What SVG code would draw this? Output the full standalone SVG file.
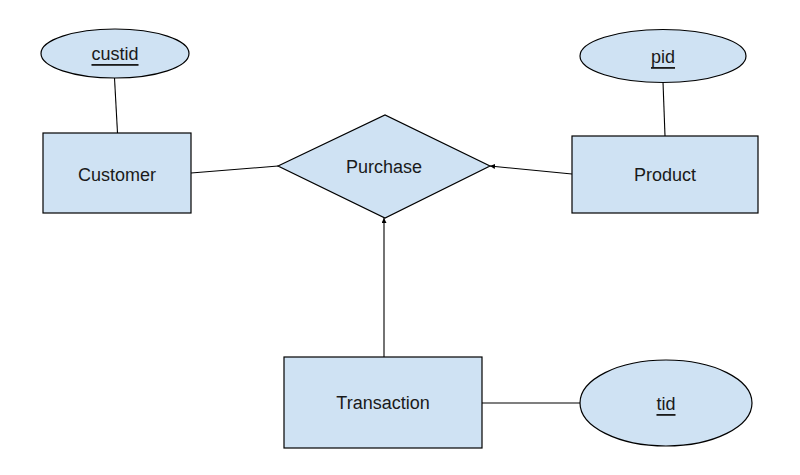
<svg xmlns="http://www.w3.org/2000/svg" width="800" height="475" viewBox="0 0 800 475">
<style>
.shape{fill:#cfe2f3;stroke:#000;stroke-width:1.2}
.lbl{font-family:"Liberation Sans",Arial,sans-serif;font-size:18px;fill:#1a1a1a;text-anchor:middle;dominant-baseline:central}
.key{text-decoration:underline}
.conn{stroke:#000;stroke-width:1.1;fill:none}
</style>
<defs>
<marker id="arr" viewBox="0 0 10 10" refX="10" refY="5" markerWidth="5" markerHeight="5" markerUnits="userSpaceOnUse" orient="auto">
<path d="M0,0 L10,5 L0,10 z" fill="#000"/>
</marker>
</defs>
<rect width="800" height="475" fill="#fff"/>
<g id="connectors">
<line class="conn" x1="114.5" y1="78" x2="117.5" y2="133"/>
<line class="conn" x1="191" y1="173" x2="278" y2="166"/>
<line class="conn" x1="663" y1="82" x2="665" y2="136"/>
<line class="conn" x1="572" y1="174" x2="490" y2="166" marker-end="url(#arr)"/>
<line class="conn" x1="384" y1="357" x2="384" y2="218" marker-end="url(#arr)"/>
<line class="conn" x1="482" y1="403" x2="580" y2="403"/>
</g>
<g id="custid">
<ellipse class="shape" cx="115" cy="53.5" rx="74" ry="24.5"/>
<text class="lbl key" x="115" y="54">custid</text>
</g>
<g id="customer">
<rect class="shape" x="43" y="133" width="148" height="80"/>
<text class="lbl" x="117" y="175">Customer</text>
</g>
<g id="purchase">
<polygon class="shape" points="278,166 385,115 490,166 385,218"/>
<text class="lbl" x="384" y="167">Purchase</text>
</g>
<g id="pid">
<ellipse class="shape" cx="663" cy="56" rx="83" ry="26.5"/>
<text class="lbl key" x="663" y="57">pid</text>
</g>
<g id="product">
<rect class="shape" x="572" y="136" width="186" height="77"/>
<text class="lbl" x="665" y="175">Product</text>
</g>
<g id="transaction">
<rect class="shape" x="284" y="357" width="198" height="91"/>
<text class="lbl" x="383" y="403">Transaction</text>
</g>
<g id="tid">
<ellipse class="shape" cx="666" cy="403" rx="86" ry="43"/>
<text class="lbl key" x="666" y="404">tid</text>
</g>
</svg>
